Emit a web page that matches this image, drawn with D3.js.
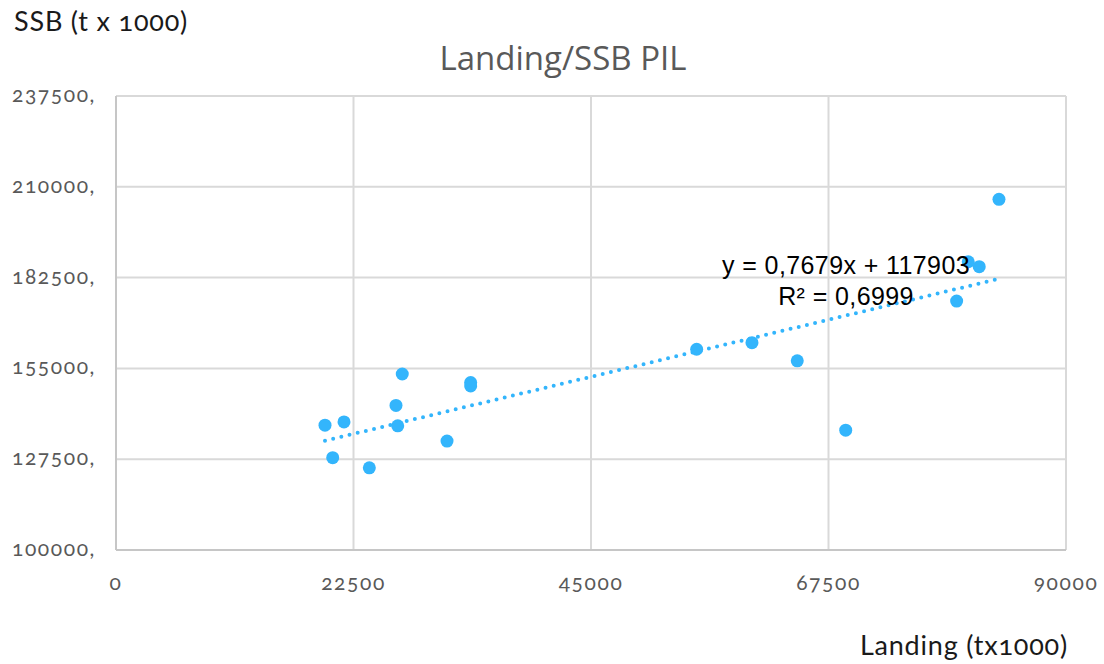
<!DOCTYPE html>
<html>
<head>
<meta charset="utf-8">
<script src="https://cdn.jsdelivr.net/npm/d3@7"></script>
<style>
  html, body { margin: 0; padding: 0; background: #fff; }
  svg { display: block; }
  .tick-label { font-family: Lato, "Open Sans", sans-serif; font-variant-numeric: oldstyle-nums; font-feature-settings: "onum" 1; }
</style>
</head>
<body>
<svg id="chart" width="1104" height="664"></svg>
<script>
// ---- data ----
const landing = [19800, 21600, 20530, 24000, 26525, 26690, 27120, 31360, 33600, 33600, 55010, 60250, 64540, 69130, 79640, 80740, 81780, 83650];
const ssb     = [137800, 138800, 127950, 124900, 143800, 137600, 153300, 133000, 150700, 149700, 160800, 162800, 157300, 136300, 175400, 187300, 185800, 206200];
const xTicks = [0, 22500, 45000, 67500, 90000];
const yTicks = [100000, 127500, 155000, 182500, 210000, 237500];
const trendSlope = 0.7679;
const trendIntercept = 117903;
const chartTitle = "Landing/SSB PIL";
const yTitle = "SSB (t x 1000)";
const xTitle = "Landing (tx1000)";
const eqText = "y = 0,7679x + 117903";
const r2Text = "R² = 0,6999";

// ---- layout ----
const svg = d3.select("#chart");
const mLeft = 116, mRight = 1066, mTop = 96, mBottom = 550;
const x = d3.scaleLinear().domain([0, 90000]).range([mLeft, mRight]);
const y = d3.scaleLinear().domain([100000, 237500]).range([mBottom, mTop]);
const dotColor = "#33b5fc";

// gridlines
svg.append("g").selectAll("line").data(yTicks.filter(d => d !== 100000)).join("line")
  .attr("x1", mLeft).attr("x2", mRight)
  .attr("y1", d => y(d)).attr("y2", d => y(d))
  .attr("stroke", "#d9d9d9").attr("stroke-width", 2);
svg.append("g").selectAll("line").data(xTicks.filter(d => d !== 0)).join("line")
  .attr("x1", d => x(d)).attr("x2", d => x(d))
  .attr("y1", mTop).attr("y2", mBottom)
  .attr("stroke", "#d9d9d9").attr("stroke-width", 2);

// axis lines
svg.append("line").attr("x1", mLeft).attr("x2", mLeft).attr("y1", mTop).attr("y2", mBottom)
  .attr("stroke", "#c6c6c6").attr("stroke-width", 2);
svg.append("line").attr("x1", mLeft).attr("x2", mRight).attr("y1", mBottom).attr("y2", mBottom)
  .attr("stroke", "#c6c6c6").attr("stroke-width", 2);

// tick labels
svg.append("g").selectAll("text").data(yTicks).join("text")
  .attr("class", "tick-label")
  .attr("x", 96).attr("y", d => y(d) + 6)
  .attr("text-anchor", "end")
  .attr("font-size", 21).attr("letter-spacing", 1.6).attr("fill", "#595959")
  .text(d => d + ",");
svg.append("g").selectAll("text").data(xTicks).join("text")
  .attr("class", "tick-label")
  .attr("x", d => x(d)).attr("y", 590)
  .attr("text-anchor", "middle")
  .attr("font-size", 21).attr("letter-spacing", 1.6).attr("fill", "#595959")
  .text(d => d);

// trendline
const xMin = d3.min(landing), xMax = d3.max(landing);
svg.append("line")
  .attr("x1", x(xMin)).attr("y1", y(trendSlope * xMin + trendIntercept))
  .attr("x2", x(xMax)).attr("y2", y(trendSlope * xMax + trendIntercept))
  .attr("stroke", dotColor).attr("stroke-width", 4)
  .attr("stroke-linecap", "round").attr("stroke-dasharray", "0 8.4");

// points
svg.append("g").selectAll("circle").data(landing.map((d, i) => [d, ssb[i]])).join("circle")
  .attr("cx", d => x(d[0])).attr("cy", d => y(d[1]))
  .attr("r", 6.5).attr("fill", dotColor);

// equation
svg.append("text").attr("x", 846).attr("y", 274).attr("text-anchor", "middle")
  .attr("font-family", "'Liberation Sans', Arial, sans-serif").attr("font-size", 25)
  .attr("letter-spacing", 0.4).attr("fill", "#000")
  .text(eqText);
svg.append("text").attr("x", 846).attr("y", 305).attr("text-anchor", "middle")
  .attr("font-family", "'Liberation Sans', Arial, sans-serif").attr("font-size", 25)
  .attr("letter-spacing", 0.4).attr("fill", "#000")
  .text(r2Text);

// titles
svg.append("text").attr("x", 563).attr("y", 70).attr("text-anchor", "middle")
  .attr("font-family", "'Open Sans', sans-serif").attr("font-size", 33).attr("fill", "#595959")
  .text(chartTitle);
svg.append("text").attr("class", "tick-label").attr("x", 14).attr("y", 31)
  .attr("font-size", 27).attr("letter-spacing", 0.8).attr("fill", "#1a1a1a")
  .text(yTitle);
svg.append("text").attr("class", "tick-label").attr("x", 1068).attr("y", 655).attr("text-anchor", "end")
  .attr("font-size", 27).attr("letter-spacing", 0.8).attr("fill", "#1a1a1a")
  .text(xTitle);
</script>
</body>
</html>
